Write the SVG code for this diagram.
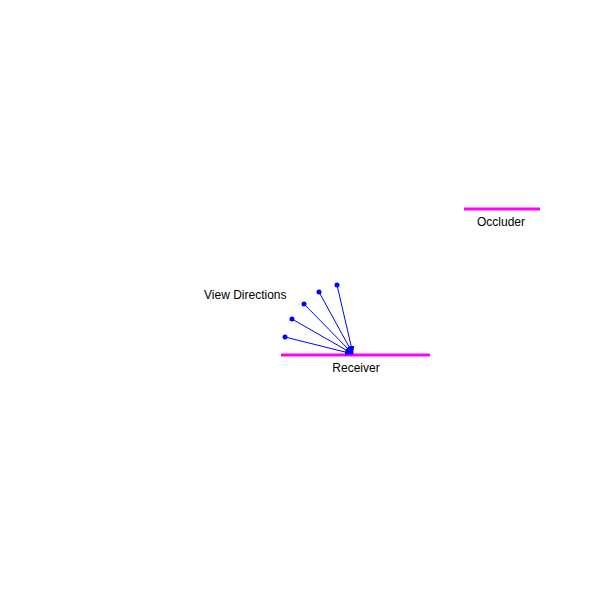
<svg xmlns="http://www.w3.org/2000/svg" width="598" height="598" viewBox="0 0 598 598">
<style>
.surf{stroke:#ff00ff;stroke-width:3;fill:none}
.dir{stroke:#0000ff;stroke-width:1;fill:none;marker-end:url(#ah)}
.dot{fill:#0000ff}
text{font-family:"Liberation Sans",Arial,sans-serif;font-size:12px;fill:#000}
</style>
<defs>
<marker id="ah" viewBox="0 0 10 10" refX="10" refY="5" markerWidth="8" markerHeight="8" markerUnits="userSpaceOnUse" orient="auto">
<path d="M0,1 L10,5 L0,9 z" fill="#0000ff"/>
</marker>
</defs>
<rect width="598" height="598" fill="#fff"/>
<g id="receiver">
<line class="surf" x1="281" y1="355" x2="430" y2="355"/>
<text x="356" y="372" text-anchor="middle">Receiver</text>
</g>
<g id="occluder">
<line class="surf" x1="464" y1="209" x2="540" y2="209"/>
<text x="501" y="226" text-anchor="middle">Occluder</text>
</g>
<g id="view-directions">
<text x="204" y="299">View Directions</text>
<circle class="dot" cx="285" cy="337" r="2.5"/>
<circle class="dot" cx="292" cy="319" r="2.5"/>
<circle class="dot" cx="304" cy="304" r="2.5"/>
<circle class="dot" cx="319" cy="292" r="2.5"/>
<circle class="dot" cx="337" cy="285" r="2.5"/>
</g>
<g id="connectors">
<line class="dir" x1="285" y1="337" x2="353" y2="354"/>
<line class="dir" x1="292" y1="319" x2="353" y2="354"/>
<line class="dir" x1="304" y1="304" x2="353" y2="354"/>
<line class="dir" x1="319" y1="292" x2="353" y2="354"/>
<line class="dir" x1="337" y1="285" x2="353" y2="354"/>
</g>
</svg>
